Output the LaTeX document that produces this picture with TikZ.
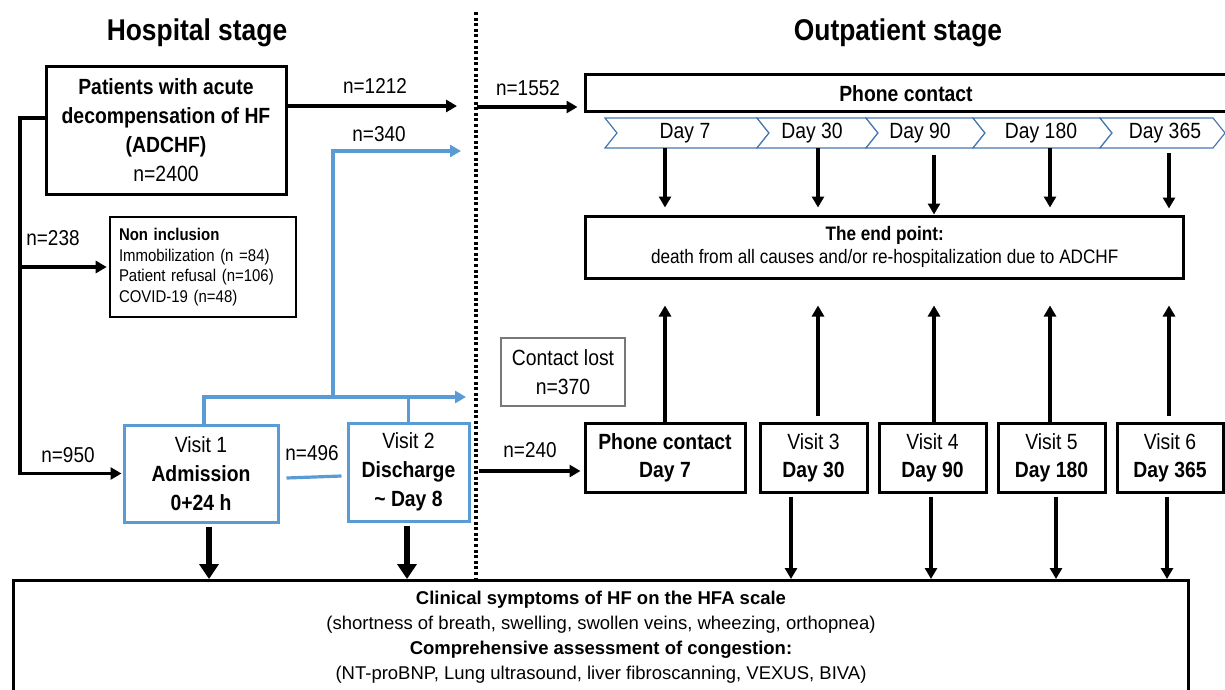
\documentclass[tikz,border=0pt]{standalone}
\usepackage{fontspec}
\setmainfont{Liberation Sans}[FakeStretch=0.88]
\newfontfamily\widesans{Liberation Sans}
\usetikzlibrary{arrows.meta,calc}

\definecolor{flowblue}{RGB}{91,155,213}
\definecolor{chevedge}{RGB}{74,120,176}
\definecolor{lostgray}{RGB}{120,120,120}

\newcommand\fTitle{\bfseries\fontsize{30}{36}\selectfont}
\newcommand\fBox{\fontsize{22}{29}\selectfont}
\newcommand\fLabel{\fontsize{21.5}{26}\selectfont}
\newcommand\fSmall{\fontsize{17}{20.7}\selectfont}
\newcommand\fEnd{\fontsize{19.5}{23}\selectfont}
\newcommand\fBottom{\widesans\fontsize{18.5}{25}\selectfont}

\tikzset{
  blackbox/.style={draw, line width=3pt, align=center, inner sep=0pt, font=\fBox},
  bluebox/.style={draw=flowblue, line width=3pt, align=center, inner sep=0pt, font=\fBox},
  label/.style={font=\fLabel, inner sep=0pt},
  arr/.style={line width=3.2pt, -{Triangle[length=11pt,width=12pt]}},
  fat/.style={line width=6pt, -{Triangle[length=15pt,width=19pt]}},
  blueline/.style={draw=flowblue, line width=3.2pt},
  bluearr/.style={blueline, -{Triangle[length=11pt,width=12pt]}},
  chev/.style={draw=chevedge, line width=1.2pt, fill=white, line join=miter},
  chevtext/.style={font=\fBox, minimum height=30pt, inner sep=0pt},
  divider/.style={line width=3.4pt, dash pattern=on 3pt off 2.6pt},
}

\begin{document}
\begin{tikzpicture}[x=1pt, y=-1pt]
\useasboundingbox (0,0) rectangle (1225,690);
\fill[white] (0,0) rectangle (1225,690);
\clip (0,0) rectangle (1225,690);

% stage headings
\node[font=\fTitle] (hosp) at (197,33) {Hospital stage};
\node[font=\fTitle] (outp) at (898,33) {Outpatient stage};

% hospital stage boxes
\node[blackbox, minimum width=240pt, minimum height=127pt] (pat) at (166,130.5)
  {\bfseries Patients with acute\\ \bfseries decompensation of HF\\ \bfseries (ADCHF)\\ n=2400};
\node[draw, line width=2.6pt, minimum width=186pt, minimum height=100pt,
      text width=168pt, align=left, inner xsep=9pt, font=\fSmall] (noninc) at (203,267)
  {{\bfseries Non inclusion}\\ Immobilization (n =84)\\ Patient refusal (n=106)\\ COVID-19 (n=48)};
\node[bluebox, minimum width=154pt, minimum height=97pt] (v1) at (201,473.5)
  {Visit 1\\ \bfseries Admission\\ \bfseries 0+24 h};
\node[bluebox, minimum width=121pt, minimum height=98pt] (v2) at (408.5,472)
  {Visit 2\\ \bfseries Discharge\\ \bfseries \textasciitilde{} Day 8};

% outpatient stage boxes
\node[blackbox, minimum width=642pt, minimum height=37pt, font=\fBox\bfseries] (phone) at (906,93.5)
  {Phone contact};
\node[blackbox, minimum width=598pt, minimum height=62pt, font=\fEnd] (endp) at (884.75,247)
  {\bfseries The end point:\\ death from all causes and/or re-hospitalization due to ADCHF};
\node[draw=lostgray, line width=1.4pt, minimum width=124pt, minimum height=68pt,
      align=center, inner sep=0pt, font=\fBox] (lost) at (563,372)
  {Contact lost\\ n=370};
\node[blackbox, minimum width=160pt, minimum height=69pt, font=\fontsize{22}{28}\selectfont\bfseries] (pc7) at (665,457.5)
  {Phone contact\\ Day 7};
\node[blackbox, minimum width=107pt, minimum height=69pt, font=\fontsize{22}{28}\selectfont] (v3) at (813.5,457.5)
  {Visit 3\\ \bfseries Day 30};
\node[blackbox, minimum width=107pt, minimum height=69pt, font=\fontsize{22}{28}\selectfont] (v4) at (932.5,457.5)
  {Visit 4\\ \bfseries Day 90};
\node[blackbox, minimum width=107pt, minimum height=69pt, font=\fontsize{22}{28}\selectfont] (v5) at (1051.5,457.5)
  {Visit 5\\ \bfseries Day 180};
\node[blackbox, minimum width=106pt, minimum height=69pt, font=\fontsize{22}{28}\selectfont] (v6) at (1170,457.5)
  {Visit 6\\ \bfseries Day 365};

% assessment box across the bottom
\node[blackbox, minimum width=1175pt, minimum height=114pt, anchor=north west, font=\fBottom] (assess) at (12,579)
  {\bfseries Clinical symptoms of HF on the HFA scale\\
   (shortness of breath, swelling, swollen veins, wheezing, orthopnea)\\
   \bfseries Comprehensive assessment of congestion:\\
   (NT-proBNP, Lung ultrasound, liver fibroscanning, VEXUS, BIVA)};

% timeline of phone contacts
\foreach \l/\r/\tx/\t [count=\i] in {605/757/685/Day 7, 757/866/812/Day 30, 866/973/920/Day 90,
                                      973/1100/1041/Day 180, 1100/1213/1165/Day 365}{
  \draw[chev] (\l,118) -- (\r,118) -- (\r+12,133) -- (\r,148) -- (\l,148) -- (\l+12,133) -- cycle;
  \node[chevtext] (c\i) at (\tx,133) {\t};
}

% divider between the stages
\coordinate (divtop) at (476,12);
\draw[divider] (divtop) -- (divtop |- assess.north);

% columns of the follow-up arrows
\coordinate (k1) at (665,0);
\coordinate (k2) at (818,0);
\coordinate (k3) at (934,0);
\coordinate (k4) at (1050,0);
\coordinate (k5) at (1169,0);
\coordinate (b3) at (791,0);
\coordinate (b4) at (931,0);
\coordinate (b5) at (1056,0);
\coordinate (b6) at (1167,0);
\coordinate (fa) at (209,0);
\coordinate (fb) at (407,0);

% phone timeline -> end point
\draw[arr, shorten >=7pt] (k1 |- c1.south) -- (k1 |- endp.north);
\draw[arr, shorten >=7pt] (k2 |- c2.south) -- (k2 |- endp.north);
\draw[arr, shorten <=7pt] (k3 |- c3.south) -- (k3 |- endp.north);
\draw[arr, shorten >=7pt] (k4 |- c4.south) -- (k4 |- endp.north);
\draw[arr, shorten <=5pt, shorten >=6pt] (k5 |- c5.south) -- (k5 |- endp.north);

% visits -> end point
\draw[arr, shorten >=26pt] (k1 |- pc7.north) -- (k1 |- endp.south);
\draw[arr, shorten <=6pt, shorten >=26pt] (k2 |- v3.north) -- (k2 |- endp.south);
\draw[arr, shorten >=26pt] (k3 |- v4.north) -- (k3 |- endp.south);
\draw[arr, shorten >=26pt] (k4 |- v5.north) -- (k4 |- endp.south);
\draw[arr, shorten <=6pt, shorten >=26pt] (k5 |- v6.north) -- (k5 |- endp.south);

% visits -> assessment
\draw[arr, shorten <=3pt] (b3 |- v3.south) -- (b3 |- assess.north);
\draw[arr, shorten <=3pt] (b4 |- v4.south) -- (b4 |- assess.north);
\draw[arr, shorten <=3pt] (b5 |- v5.south) -- (b5 |- assess.north);
\draw[arr, shorten <=3pt] (b6 |- v6.south) -- (b6 |- assess.north);
\draw[fat, shorten <=3pt] (fa |- v1.south) -- (fa |- assess.north);
\draw[fat, shorten <=3pt] (fb |- v2.south) -- (fb |- assess.north);

% patient flow in hospital
\coordinate (trunk) at (20,118);
\coordinate (t1212) at (457,106);
\draw[arr] (pat.east |- t1212) -- (t1212);
\draw[arr, shorten >=1pt] (pat.west |- trunk) -- (trunk) |- (v1.west);
\draw[arr, shorten >=2pt] (trunk |- noninc.west) -- (noninc.west);

\coordinate (bj) at (333,397);
\coordinate (t340) at (461,151);
\coordinate (t370) at (466,397);
\draw[bluearr] ([xshift=3pt]v1.north) |- (t370);
\draw[blueline] (v2.north) -- (v2.north |- t370);
\draw[bluearr] (bj) |- (t340);
\draw[blueline] ($(v1.east)+(7,4.5)$) -- ($(v2.west)+(-5,4)$);

% entry into outpatient follow-up
\coordinate (s1552) at (477,107);
\coordinate (s240) at (479,471);
\draw[arr, shorten >=6pt] (s1552) -- (phone.west |- s1552);
\draw[arr, shorten >=3pt] (s240) -- (pc7.west |- s240);

% counts
\node[label] (l1212) at (375,86) {n=1212};
\node[label] (l340) at (379,134) {n=340};
\node[label] (l238) at (53,238) {n=238};
\node[label] (l950) at (68,455) {n=950};
\node[label] (l496) at (312,453) {n=496};
\node[label] (l1552) at (528,88) {n=1552};
\node[label] (l240) at (530,450) {n=240};
\end{tikzpicture}
\end{document}
